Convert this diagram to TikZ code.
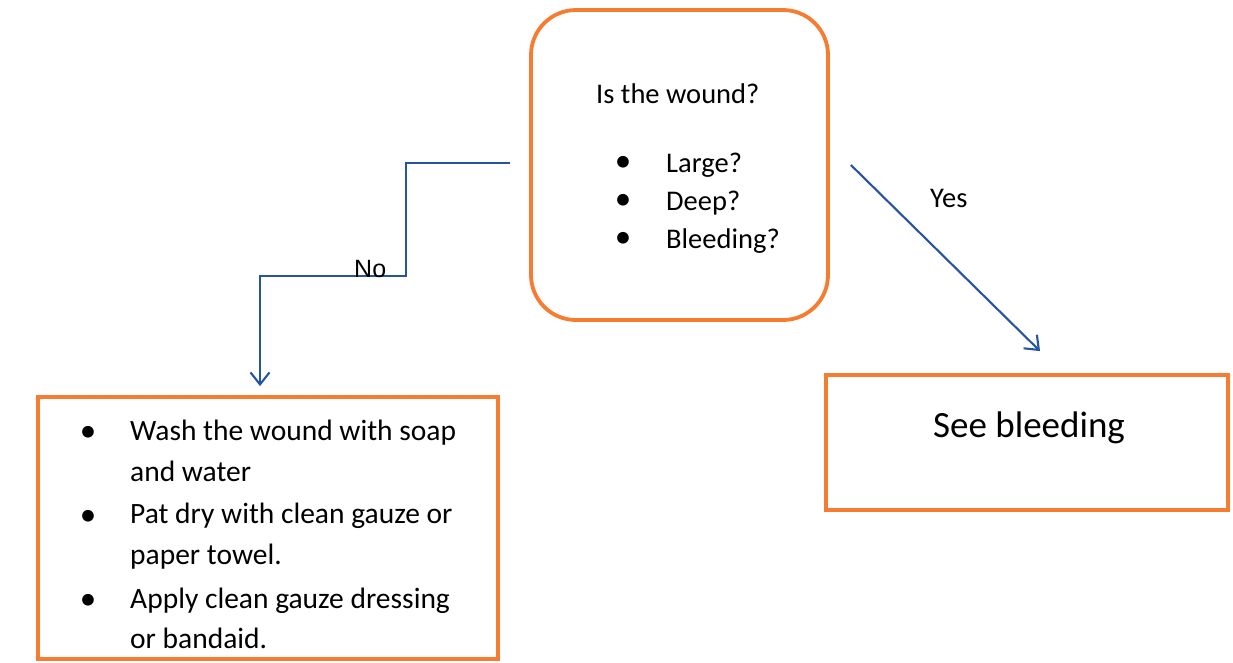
\documentclass[tikz,border=0pt]{standalone}
\usepackage{fontspec}
\setmainfont{Carlito}
\newfontfamily\arialfont{Liberation Sans}
\usetikzlibrary{arrows.meta}
\definecolor{boxorange}{RGB}{245,124,48}
\definecolor{lineblue}{RGB}{38,84,160}
\tikzset{
  box/.style={draw=boxorange, line width=3.8pt, inner sep=0pt},
  txt/.style={anchor=base west, inner sep=0pt, font=\fontsize{28.5}{30}\selectfont},
  wtxt/.style={anchor=base west, inner sep=0pt, font=\fontsize{29.5}{30}\selectfont},
  bul/.style={anchor=center, inner sep=0pt, font=\fontsize{33}{33}\selectfont},
  conn/.style={draw=lineblue, line width=2.1pt, -{Straight Barb[length=12pt,width=19pt,line width=2.1pt]}},
}
\begin{document}
\begin{tikzpicture}[x=1pt,y=-1pt]
\useasboundingbox[fill=white] (0,0) rectangle (1233,662);
% boxes
\node[box, rounded corners=45pt, minimum width=297pt, minimum height=310pt] (q) at (679.5,165) {};
\node[box, minimum width=460pt, minimum height=262pt] (w) at (268,528) {};
\node[box, minimum width=402pt, minimum height=135pt] (s) at (1027,442.5) {};
% question text
\node[txt] (q0) at (596,103) {Is the wound?};
\node[bul] (qb1) at (623,164) {•};
\node[bul] (qb2) at (623,202) {•};
\node[bul] (qb3) at (623,240) {•};
\node[txt] (q1) at (666,172) {Large?};
\node[txt] (q2) at (666,210) {Deep?};
\node[txt] (q3) at (666,248) {Bleeding?};
% wash text
\node[bul] (wb1) at (88,434) {•};
\node[bul] (wb2) at (88,518) {•};
\node[bul] (wb3) at (88,602) {•};
\node[wtxt] (w1) at (130,440) {Wash the wound with soap};
\node[wtxt] (w2) at (130,481) {and water};
\node[wtxt] (w3) at (130,523) {Pat dry with clean gauze or};
\node[wtxt] (w4) at (130,564) {paper towel.};
\node[wtxt] (w5) at (130,608) {Apply clean gauze dressing};
\node[wtxt] (w6) at (130,648) {or bandaid.};
% see bleeding
\node[txt, font=\fontsize{37}{40}\selectfont] (s1) at (933,437) {See bleeding};
% connectors
\coordinate (nstart) at ([shift={(-19,-2)}]q.west);
\coordinate (nend) at ([shift={(-8,-9)}]w.north);
\draw[conn] (nstart) -| (406,276) -| (nend);
\node[anchor=base west, inner sep=0pt, font=\arialfont\fontsize{25}{25}\selectfont] (no) at (354,277) {No};
\coordinate (ystart) at ([xshift=21]q.east);
\coordinate (yend) at ([shift={(13,-22)}]s.north);
\draw[conn] (ystart) -- (yend);
\node[txt] (yes) at (930,207) {Yes};
\end{tikzpicture}
\end{document}
